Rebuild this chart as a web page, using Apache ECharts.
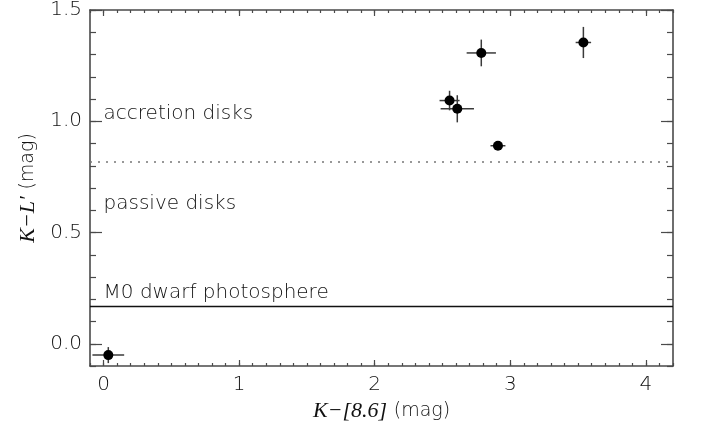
<!DOCTYPE html>
<html>
<head>
<meta charset="utf-8">
<script src="https://cdn.jsdelivr.net/npm/echarts@6/dist/echarts.min.js"></script>
<style>
  html, body { margin: 0; padding: 0; background: #fff; }
  #chart { width: 702px; height: 430px; }
</style>
</head>
<body>
<div id="chart"></div>
<script>
// Colour-colour diagram: K-[8.6] versus K-L'
const sources = ['A', 'B', 'C', 'D', 'E', 'F'];
const kMinus86 = [0.035, 2.552, 2.609, 2.786, 2.909, 3.539];
const kMinusL = [-0.051, 1.093, 1.056, 1.307, 0.890, 1.354];
const kMinus86Err = [0.117, 0.074, 0.123, 0.108, 0.055, 0.057];
const kMinusLErr = [0.036, 0.044, 0.061, 0.060, 0.010, 0.070];

// Boundaries between regimes
const accretionBoundary = 0.82;
const photosphereLevel = 0.17;

// Region annotations
const regionNames = ['accretion disks', 'passive disks', 'M0 dwarf photosphere'];
const regionX = [0, 0, 0];
const regionY = [1.033, 0.630, 0.230];

// Tick labels
const xTicks = [0, 1, 2, 3, 4];
const yTicks = [0.0, 0.5, 1.0, 1.5];

const xMin = -0.1, xMax = 4.2, yMin = -0.1, yMax = 1.5;

function steps(lo, hi, step) {
  const out = [];
  const n = Math.round((hi - lo) / step);
  for (let i = 0; i <= n; i++) out.push(+(lo + i * step).toFixed(4));
  return out;
}
const xMinor = steps(-0.1, 4.2, 0.1);
const yMinor = steps(-0.1, 1.5, 0.1);

const FONT = 'DejaVu Sans';
const WEIGHT = 200;
const AXIS = '#4a4a4a';
const TEXT = '#111';

function xAxisDef(pos, major, showLine, extra) {
  return Object.assign({
    type: 'value', min: xMin, max: xMax, position: pos,
    axisLine: { show: showLine, onZero: false, lineStyle: { color: AXIS, width: 1.6 } },
    axisTick: { show: true, inside: true, length: major ? 6 : 3,
      customValues: major ? xTicks : xMinor, lineStyle: { color: AXIS, width: 1.2 } },
    axisLabel: { show: false },
    splitLine: { show: false }
  }, extra || {});
}
function yAxisDef(pos, major, showLine, extra) {
  return Object.assign({
    type: 'value', min: yMin, max: yMax, position: pos,
    axisLine: { show: showLine, onZero: false, lineStyle: { color: AXIS, width: 1.6 } },
    axisTick: { show: true, inside: true, length: major ? 12 : 6,
      customValues: major ? yTicks : yMinor, lineStyle: { color: AXIS, width: 1.2 } },
    axisLabel: { show: false },
    splitLine: { show: false }
  }, extra || {});
}

const chart = echarts.init(document.getElementById('chart'), null, { renderer: 'canvas' });

const points = kMinus86.map((x, i) => [x, kMinusL[i], kMinus86Err[i], kMinusLErr[i], sources[i]]);
const labels = regionNames.map((n, i) => [regionX[i], regionY[i], n]);

const nameRich = {
  i: { fontFamily: 'Liberation Serif', fontStyle: 'italic', fontSize: 22, color: TEXT },
  n: { fontFamily: FONT, fontWeight: WEIGHT, fontSize: 19, color: TEXT }
};

chart.setOption({
  animation: false,
  backgroundColor: '#fff',
  grid: { left: 90, right: 29, top: 9, bottom: 64 },
  xAxis: [
    xAxisDef('bottom', true, true, {
      axisLabel: {
        show: true, customValues: xTicks, margin: 9,
        fontFamily: FONT, fontWeight: WEIGHT, fontSize: 20, color: TEXT,
        formatter: v => String(Math.round(v))
      },
      name: '{i|K\u2212[8.6]}  {n|(mag)}',
      nameLocation: 'middle', nameGap: 34,
      nameTextStyle: { rich: nameRich }
    }),
    xAxisDef('bottom', false, false),
    xAxisDef('top', true, true),
    xAxisDef('top', false, false)
  ],
  yAxis: [
    yAxisDef('left', true, true, {
      axisLabel: {
        show: true, customValues: yTicks, margin: 8,
        fontFamily: FONT, fontWeight: WEIGHT, fontSize: 20, color: TEXT,
        formatter: v => v.toFixed(1)
      },
      name: '{i|K\u2212L\u2032}  {n|(mag)}',
      nameLocation: 'middle', nameRotate: 90, nameGap: 50,
      nameTextStyle: { rich: nameRich }
    }),
    yAxisDef('left', false, false),
    yAxisDef('right', true, true),
    yAxisDef('right', false, false)
  ],
  series: [
    {
      // regime boundaries
      type: 'line', data: [], xAxisIndex: 0, yAxisIndex: 0,
      markLine: {
        silent: true, symbol: 'none', label: { show: false },
        data: [
          { yAxis: accretionBoundary, lineStyle: { color: '#777', width: 1.6, type: [2, 6] } },
          { yAxis: photosphereLevel, lineStyle: { color: '#111', width: 1.4, type: 'solid' } }
        ]
      }
    },
    {
      // region names
      type: 'scatter', xAxisIndex: 0, yAxisIndex: 0,
      symbolSize: 0, data: labels, z: 3,
      itemStyle: { opacity: 1 },
      label: {
        show: true, position: 'right', distance: 0,
        fontFamily: FONT, fontWeight: WEIGHT, fontSize: 20, color: TEXT,
        formatter: p => p.value[2]
      }
    },
    {
      // error bars
      type: 'custom', xAxisIndex: 0, yAxisIndex: 0, data: points, z: 4,
      renderItem: function (params, api) {
        const x = api.value(0), y = api.value(1), ex = api.value(2), ey = api.value(3);
        const l = api.coord([x - ex, y]), r = api.coord([x + ex, y]);
        const b = api.coord([x, y - ey]), t = api.coord([x, y + ey]);
        const style = { stroke: '#3a3a3a', lineWidth: 1.5 };
        return {
          type: 'group',
          children: [
            { type: 'line', shape: { x1: l[0], y1: l[1], x2: r[0], y2: r[1] }, style: style },
            { type: 'line', shape: { x1: b[0], y1: b[1], x2: t[0], y2: t[1] }, style: style }
          ]
        };
      }
    },
    {
      // measured colours
      type: 'scatter', xAxisIndex: 0, yAxisIndex: 0, z: 5,
      symbol: 'circle', symbolSize: 10,
      itemStyle: { color: '#000', opacity: 1 },
      data: points.map(p => [p[0], p[1]])
    }
  ]
});
</script>
</body>
</html>
